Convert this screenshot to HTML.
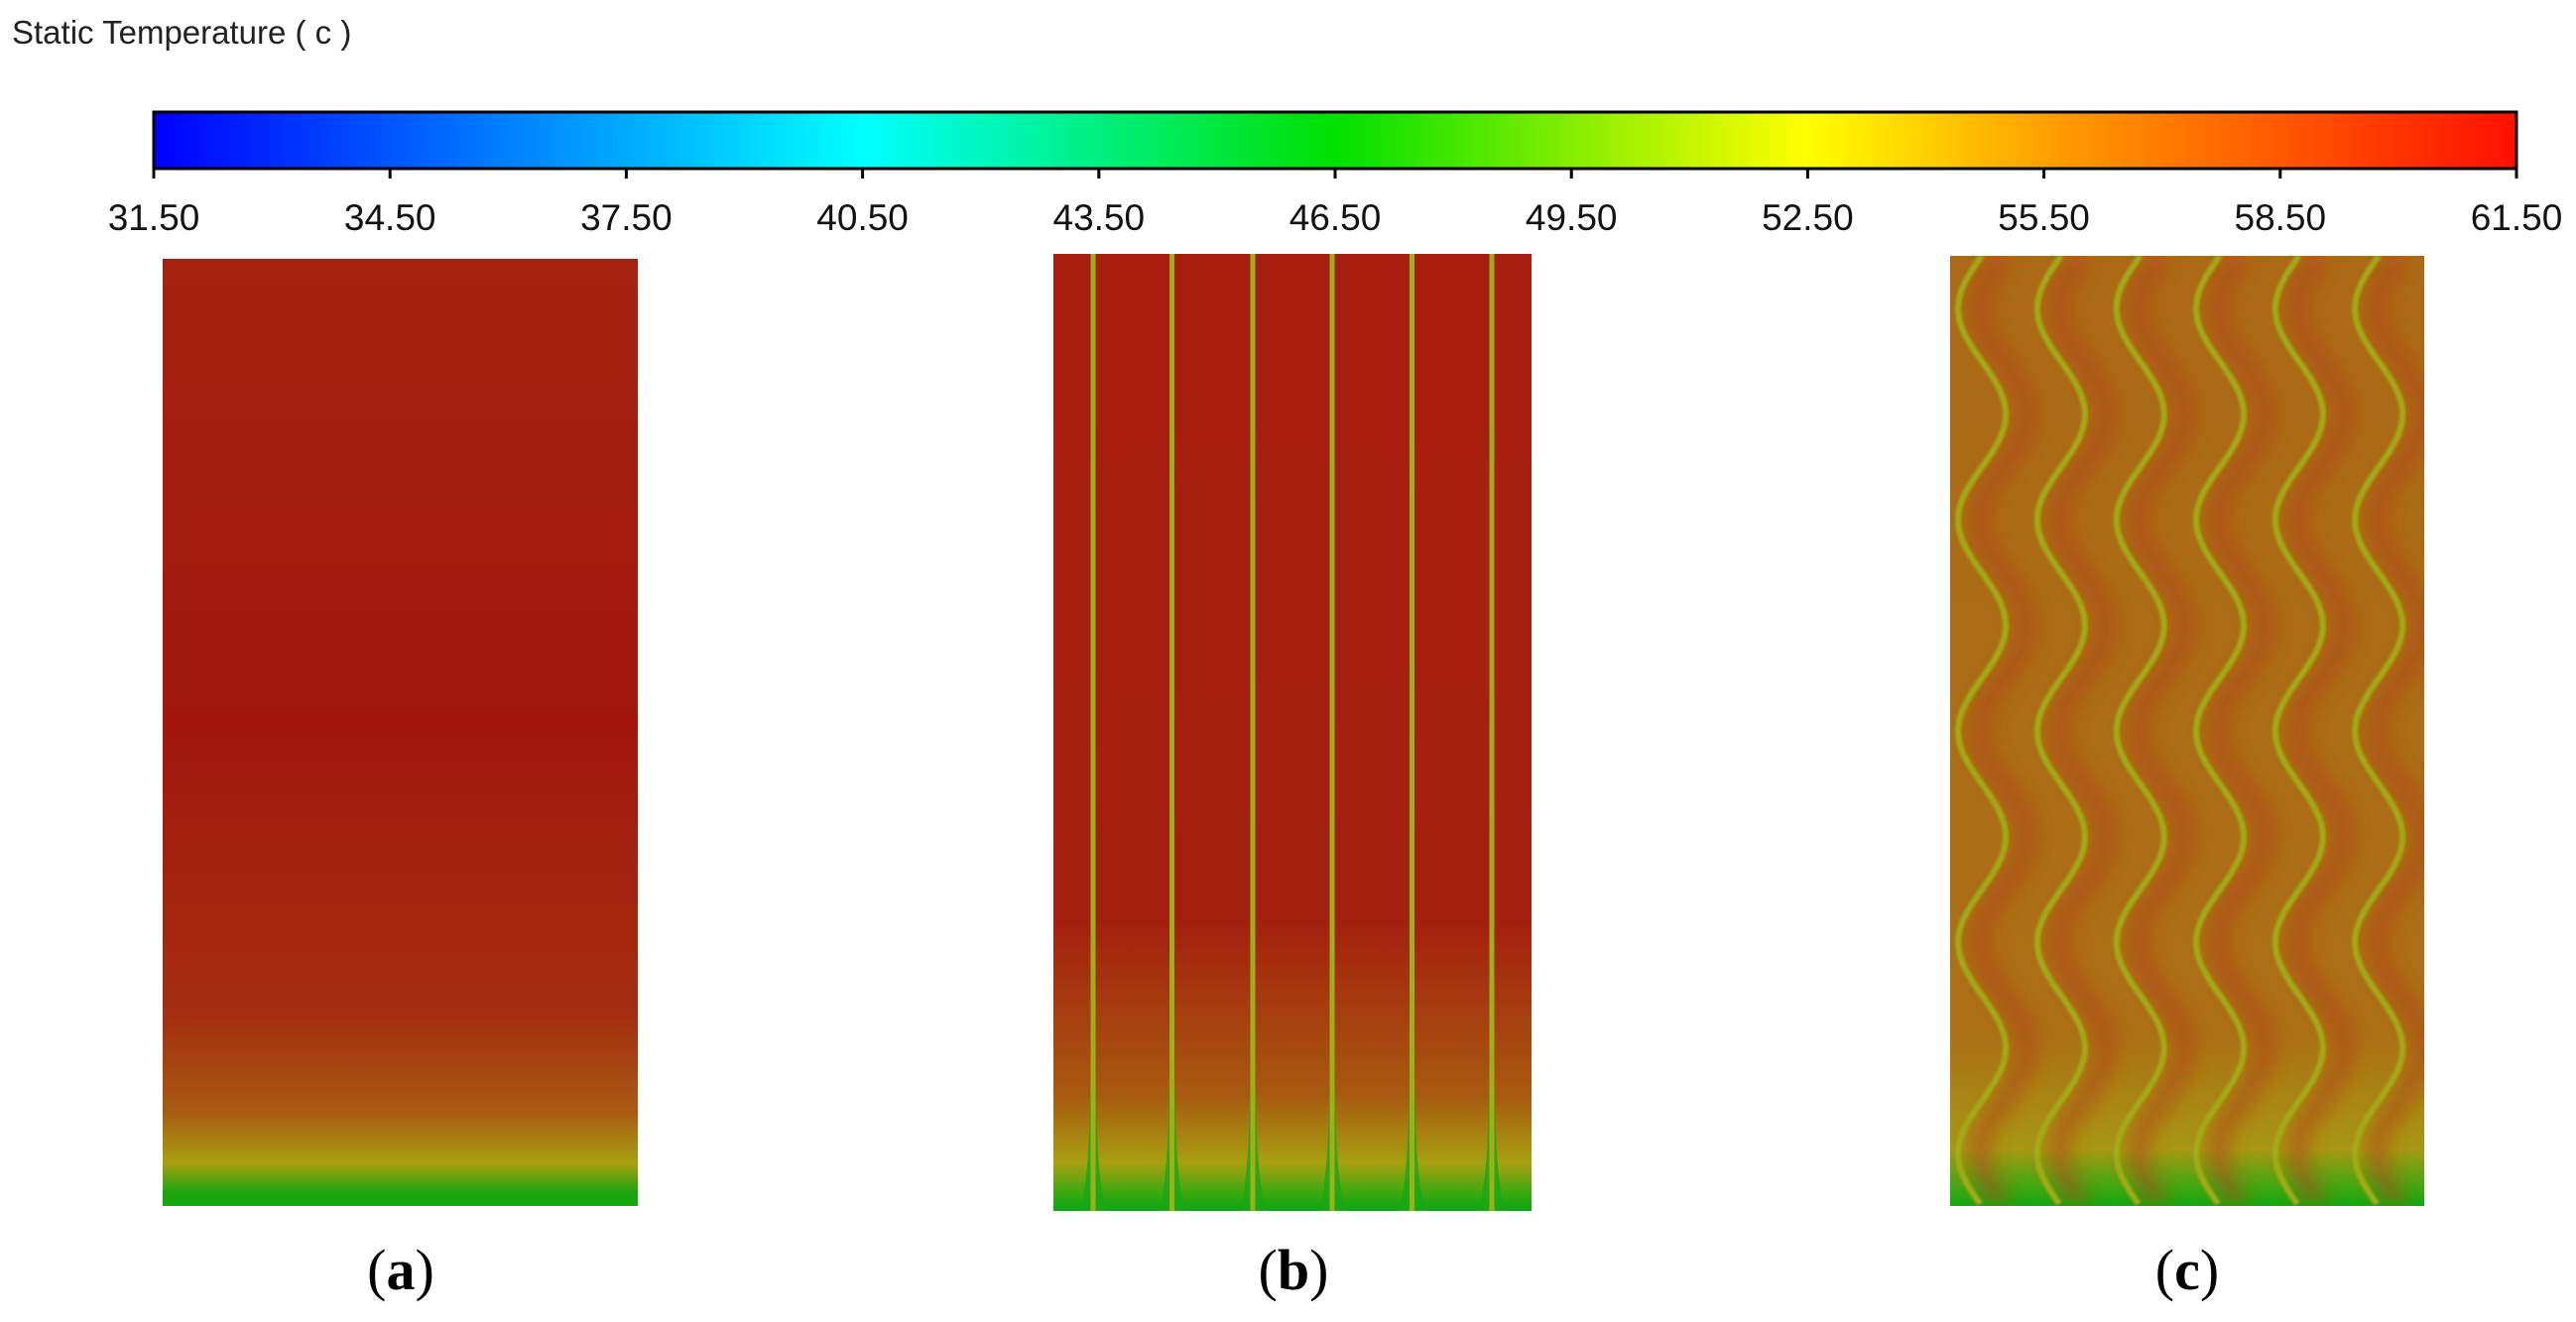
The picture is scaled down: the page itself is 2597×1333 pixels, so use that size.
<!DOCTYPE html>
<html><head><meta charset="utf-8">
<style>
html,body{margin:0;padding:0;background:#fff;width:2597px;height:1333px;overflow:hidden}
svg{display:block}
</style></head>
<body>
<svg id="fig" width="2597" height="1333" viewBox="0 0 2597 1333" xmlns="http://www.w3.org/2000/svg">
<defs>
<linearGradient id="cmap" x1="0" x2="1" y1="0" y2="0">
<stop offset="0" stop-color="#0000ff"/>
<stop offset="0.15" stop-color="#0080ff"/>
<stop offset="0.3" stop-color="#00ffff"/>
<stop offset="0.5" stop-color="#00e000"/>
<stop offset="0.62" stop-color="#a0f000"/>
<stop offset="0.7" stop-color="#ffff00"/>
<stop offset="0.8" stop-color="#ffa000"/>
<stop offset="1" stop-color="#ff1000"/>
</linearGradient>
<linearGradient id="gradA" x1="0" x2="0" y1="0" y2="1">
<stop offset="0" stop-color="#a4220f"/>
<stop offset="0.5" stop-color="#a2180e"/>
<stop offset="0.8" stop-color="#a42e10"/>
<stop offset="0.9" stop-color="#a85a12"/>
<stop offset="0.955" stop-color="#a8a010"/>
<stop offset="0.985" stop-color="#20a410"/>
<stop offset="1" stop-color="#10a810"/>
</linearGradient>
<linearGradient id="gradB" x1="0" x2="0" y1="0" y2="1">
<stop offset="0" stop-color="#a81e0e"/>
<stop offset="0.7" stop-color="#a4200e"/>
<stop offset="0.88" stop-color="#a85a10"/>
<stop offset="0.95" stop-color="#a8a010"/>
<stop offset="0.98" stop-color="#40a810"/>
<stop offset="1" stop-color="#08a810"/>
</linearGradient>
<linearGradient id="gradC" x1="0" x2="0" y1="0" y2="1">
<stop offset="0" stop-color="#ac6a16"/>
<stop offset="0.82" stop-color="#ac7016"/>
<stop offset="0.94" stop-color="#a89812"/>
<stop offset="0.98" stop-color="#40a812"/>
<stop offset="1" stop-color="#10a810"/>
</linearGradient>
<filter id="blur8"><feGaussianBlur stdDeviation="9"/></filter>
<filter id="blur1"><feGaussianBlur stdDeviation="1.2"/></filter>
<clipPath id="clipB"><rect x="1062" y="256" width="482" height="965"/></clipPath>
<clipPath id="clipC"><rect x="1966" y="258" width="478" height="958"/></clipPath>
</defs>
<text x="12" y="44" font-family="Liberation Sans, sans-serif" font-size="33" fill="#222">Static Temperature ( c )</text>
<rect x="155" y="113" width="2382" height="57" fill="url(#cmap)" stroke="#000" stroke-width="3"/>
<g id="ticks"></g>
<rect x="164" y="261" width="479" height="955" fill="url(#gradA)"/>
<g clip-path="url(#clipB)">
<rect x="1062" y="256" width="482" height="965" fill="url(#gradB)"/>
<g id="bLines"></g>
</g>
<g clip-path="url(#clipC)">
<rect x="1966" y="258" width="478" height="958" fill="url(#gradC)"/>
<g id="cShade" filter="url(#blur8)"></g>
<g id="cLines" filter="url(#blur1)"></g>
</g>
<text x="404" y="1300" text-anchor="middle" font-family="Liberation Serif, serif" font-size="58" fill="#000">(<tspan font-weight="bold">a</tspan>)</text>
<text x="1304" y="1300" text-anchor="middle" font-family="Liberation Serif, serif" font-size="58" fill="#000">(<tspan font-weight="bold">b</tspan>)</text>
<text x="2205" y="1300" text-anchor="middle" font-family="Liberation Serif, serif" font-size="58" fill="#000">(<tspan font-weight="bold">c</tspan>)</text>
</svg>
<script>
const tickValues = [31.5, 34.5, 37.5, 40.5, 43.5, 46.5, 49.5, 52.5, 55.5, 58.5, 61.5];
const tickLabels = ["31.50","34.50","37.50","40.50","43.50","46.50","49.50","52.50","55.50","58.50","61.50"];
const channelsB = [0.083, 0.248, 0.417, 0.583, 0.75, 0.917];
const channelsC = [0.067, 0.234, 0.401, 0.569, 0.736, 0.904];
const NS = "http://www.w3.org/2000/svg";
const cbX0 = 155, cbX1 = 2537, tMin = 31.5, tMax = 61.5;
function xScale(v){ return cbX0 + (v - tMin) / (tMax - tMin) * (cbX1 - cbX0); }
const tg = document.getElementById('ticks');
tickValues.forEach((v, i) => {
  const x = xScale(v);
  const l = document.createElementNS(NS, 'line');
  
  
  l.setAttribute('x1', x); l.setAttribute('x2', x); l.setAttribute('y1', 170); l.setAttribute('y2', 180);
  l.setAttribute('stroke', '#000'); l.setAttribute('stroke-width', 3);
  tg.appendChild(l);
  const t = document.createElementNS(NS, 'text');
  
  
  t.setAttribute('x', x); t.setAttribute('y', 232);
  t.setAttribute('text-anchor', 'middle');
  t.setAttribute('font-family', 'Liberation Sans, sans-serif');
  t.setAttribute('font-size', '37'); t.setAttribute('fill', '#111');
  t.textContent = tickLabels[i];
  tg.appendChild(t);
});
const bg = document.getElementById('bLines');
const bX0 = 1062, bW = 482;
channelsB.forEach(f => {
  const x = bX0 + f * bW;
  const w = document.createElementNS(NS, 'path');
  
  
  w.setAttribute('d', `M${x-3} 1100 Q${x-4} 1195 ${x-14} 1221 L${x+14} 1221 Q${x+4} 1195 ${x+3} 1100Z`);
  w.setAttribute('fill', '#18a818'); w.setAttribute('opacity', '0.8');
  bg.appendChild(w);
  const l = document.createElementNS(NS, 'line');
  
  
  l.setAttribute('x1', x); l.setAttribute('x2', x); l.setAttribute('y1', 256); l.setAttribute('y2', 1221);
  l.setAttribute('stroke', '#9cb018'); l.setAttribute('stroke-width', 5);
  bg.appendChild(l);
});
const cS = document.getElementById('cShade'), cL = document.getElementById('cLines');
const cX0 = 1966, cW = 478, cY0 = 258, cY1 = 1216, period = 213, amp = 24;
function wavePath(xc, off){
  let d = '';
  for (let y = cY0; y <= cY1; y += 4) {
    const x = xc + off + amp * Math.sin((y - cY0) / period * 2 * Math.PI + Math.PI);
    d += (d ? 'L' : 'M') + x.toFixed(1) + ' ' + y;
  }
  return d;
}
channelsC.forEach(f => {
  const xc = cX0 + f * cW;
  const s = document.createElementNS(NS, 'path');
  
  
  s.setAttribute('d', wavePath(xc, 22));
  s.setAttribute('fill', 'none'); s.setAttribute('stroke', '#b04412');
  s.setAttribute('stroke-width', 22); s.setAttribute('opacity', '0.55');
  cS.appendChild(s);
  const p = document.createElementNS(NS, 'path');
  
  
  p.setAttribute('d', wavePath(xc, 0));
  p.setAttribute('fill', 'none'); p.setAttribute('stroke', '#a2aa14');
  p.setAttribute('stroke-width', 6);
  cL.appendChild(p);
});
</script>
</body></html>
